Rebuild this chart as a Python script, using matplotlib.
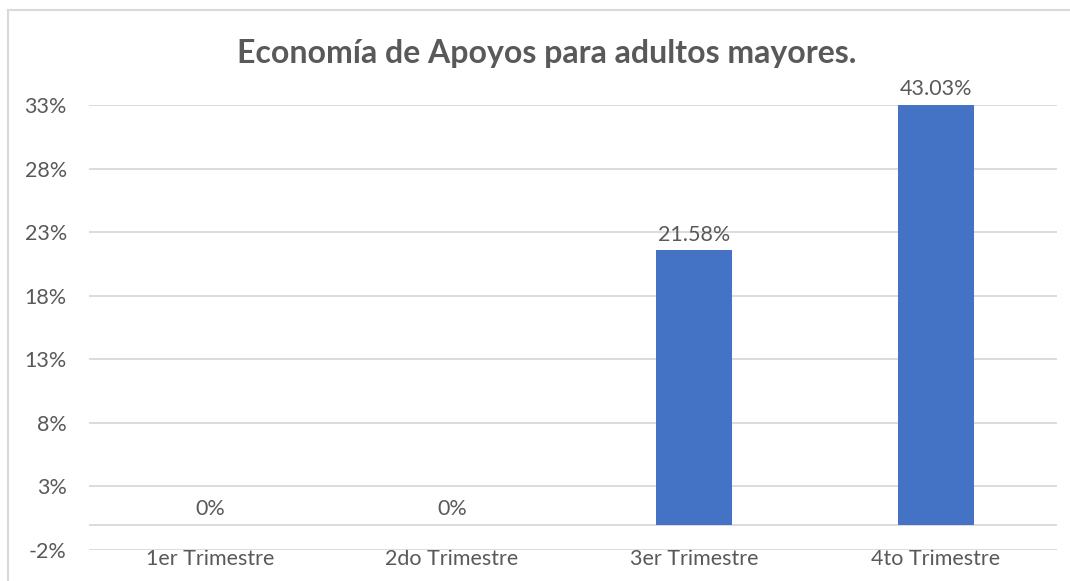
import matplotlib.pyplot as plt
from matplotlib.lines import Line2D
import numpy as np

# datos
categorias = ["1er Trimestre", "2do Trimestre", "3er Trimestre", "4to Trimestre"]
valores = [0, 0, 21.58, 43.03]
etiquetas = ["0%", "0%", "21.58%", "43.03%"]
y_ticks = [-2, 3, 8, 13, 18, 23, 28, 33]

plt.rcParams['font.family'] = ['Lato', 'DejaVu Sans']
gris = '#595959'
rejilla = '#D9D9D9'
azul = '#4472C4'

fig = plt.figure(figsize=(10.7, 5.81), dpi=100)
W, H = 1070, 581
ax = fig.add_axes([89 / W, 1 - 550 / H, (1057 - 89) / W, (550 - 105) / H])

ymin, ymax = y_ticks[0], y_ticks[-1]
x = np.arange(len(categorias))
alturas = [min(v, ymax) for v in valores]
ax.bar(x, alturas, width=0.314, color=azul, zorder=3)

# etiquetas de datos
for xi, h, txt in zip(x, alturas, etiquetas):
    ax.annotate(txt, (xi, h), xytext=(0, 4), textcoords='offset points',
                ha='center', va='bottom', fontsize=15.5, color=gris)

ax.set_xlim(-0.5, len(categorias) - 0.5)
ax.set_ylim(ymin, ymax)
ax.set_yticks(y_ticks)
ax.set_yticklabels([f"{t}%" for t in y_ticks])
ax.set_xticks(x)
ax.set_xticklabels(categorias)
ax.tick_params(axis='y', length=0, pad=16, labelsize=15.5, labelcolor=gris)
ax.tick_params(axis='x', length=0, pad=-1, labelsize=15.5, labelcolor=gris)
ax.grid(axis='y', color=rejilla, lw=1.3, zorder=0)
ax.axhline(0, color=rejilla, lw=1.3, zorder=1)
for s in ax.spines.values():
    s.set_visible(False)

fig.text(547 / W, 1 - 53 / H, "Economía de Apoyos para adultos mayores.",
         ha='center', va='center', fontsize=23, fontweight='bold', color=gris)

# marco del gráfico
fig.add_artist(Line2D([8 / W, 8 / W], [0, 1 - 10 / H], color=rejilla, lw=1.5))
fig.add_artist(Line2D([8 / W, 1], [1 - 10 / H, 1 - 10 / H], color=rejilla, lw=1.5))

fig.savefig("out.png", dpi=100)
